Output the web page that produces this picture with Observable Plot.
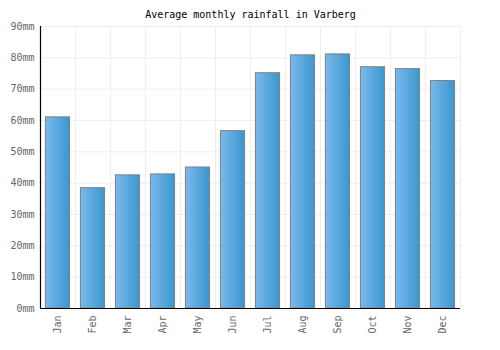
<!DOCTYPE html>
<html>
<head>
<meta charset="utf-8">
<script src="https://cdn.jsdelivr.net/npm/d3@7"></script>
<script src="https://cdn.jsdelivr.net/npm/@observablehq/plot@0.6"></script>
<style>
  html, body { margin: 0; padding: 0; background: #fff; }
  #chart svg { display: block; }
</style>
</head>
<body>
<div id="chart"></div>
<script>
const months = ["Jan","Feb","Mar","Apr","May","Jun","Jul","Aug","Sep","Oct","Nov","Dec"];
const rainfall = [61.0, 38.4, 42.5, 42.8, 45.0, 56.6, 75.1, 80.8, 81.1, 77.0, 76.4, 72.6];
const yTicks = [0, 10, 20, 30, 40, 50, 60, 70, 80, 90];
const title = "Average monthly rainfall in Varberg";

const data = months.map((m, i) => ({month: m, value: rainfall[i]}));

const W = 500, H = 350;
const mL = 40, mR = 40, mT = 26, mB = 42;
const step = (W - mL - mR) / months.length;

const chart = Plot.plot({
  width: W,
  height: H,
  marginLeft: mL,
  marginRight: mR,
  marginTop: mT,
  marginBottom: mB,
  style: {fontFamily: "'DejaVu Sans Mono', monospace", fontSize: "10px", background: "#fff"},
  x: {domain: months, paddingInner: 0.31, paddingOuter: 0.155, round: false, label: null},
  y: {domain: [0, 90], label: null},
  marks: [
    Plot.ruleY(yTicks, {stroke: "#eeeeee", strokeWidth: 1}),
    Plot.ruleX(months, {x: d => d, dx: step / 2, stroke: "#eeeeee", strokeWidth: 1}),
    Plot.barY(data, {x: "month", y: "value", fill: "url(#barGrad)", stroke: "#808080", strokeWidth: 1}),
    Plot.axisY({ticks: yTicks, tickFormat: d => d + "mm", tickSize: 0, tickPadding: 6, fill: "#666", label: null}),
    Plot.axisX({tickSize: 0, tickPadding: 7, tickRotate: -90, fill: "#666", label: null}),
    Plot.ruleX([0], {x: () => months[0], dx: -step / 2, stroke: "#000", strokeWidth: 1.2}),
    Plot.ruleY([0], {stroke: "#000", strokeWidth: 1.2}),
    Plot.text([title], {frameAnchor: "top", dy: -16, fill: "#000", fontSize: 10})
  ]
});

const svg = d3.select(chart);
const defs = svg.insert("defs", ":first-child");
const g = defs.append("linearGradient").attr("id", "barGrad")
  .attr("x1", "0%").attr("x2", "100%").attr("y1", "0%").attr("y2", "0%");
g.append("stop").attr("offset", "0%").attr("stop-color", "#7ab9ec");
g.append("stop").attr("offset", "100%").attr("stop-color", "#3a97cf");

document.getElementById("chart").appendChild(chart);
</script>
</body>
</html>
